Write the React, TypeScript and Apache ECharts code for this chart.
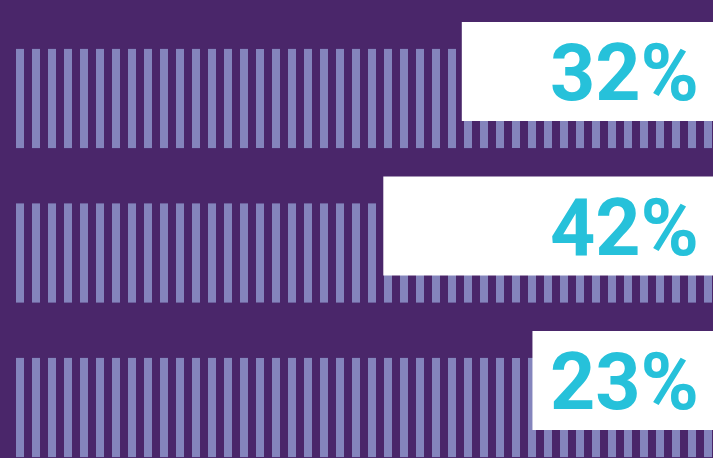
import React, { useEffect, useRef } from "react";
import * as echarts from "echarts";

const categories = ["Row 1", "Row 2", "Row 3"];
const percentValues = [32, 42, 23];
const trackValues = [100, 100, 100];
const axisMax = 100;

export default function App() {
  const ref = useRef<HTMLDivElement>(null);
  useEffect(() => {
    const chart = echarts.init(ref.current as HTMLDivElement, null, { renderer: "svg" });
    chart.setOption({
      animation: false,
      backgroundColor: "#4a266a",
      grid: [
        { left: 16, right: 1, top: 21.25, height: 463.5, outerBoundsMode: "none" },
        { left: -72, right: 0, top: -5.8, height: 463.5, outerBoundsMode: "none" },
      ],
      xAxis: [
        { gridIndex: 0, type: "value", min: 0, max: axisMax, show: false },
        { gridIndex: 1, type: "value", min: 0, max: axisMax, inverse: true, show: false },
      ],
      yAxis: [
        { gridIndex: 0, type: "category", data: categories, inverse: true, show: false },
        { gridIndex: 1, type: "category", data: categories, inverse: true, show: false },
      ],
      series: [
        {
          type: "pictorialBar",
          xAxisIndex: 0,
          yAxisIndex: 0,
          data: trackValues,
          symbol: "rect",
          symbolRepeat: true,
          symbolSize: [8, 99],
          symbolMargin: 4,
          itemStyle: { color: "#8484bc" },
          silent: true,
          z: 1,
        },
        {
          type: "bar",
          xAxisIndex: 1,
          yAxisIndex: 1,
          data: percentValues,
          barWidth: 99,
          itemStyle: { color: "#ffffff" },
          z: 2,
          label: {
            show: true,
            position: "insideRight",
            distance: 14,
            offset: [0, 2],
            formatter: "{c}%",
            color: "#26c1da",
            fontSize: 79,
            fontWeight: "bold",
            fontFamily: "Roboto",
          },
        },
      ],
    });
    return () => chart.dispose();
  }, []);
  return (
    <div
      ref={ref}
      style={{ position: "fixed", left: 0, top: 0, width: 713, height: 458 }}
    />
  );
}
